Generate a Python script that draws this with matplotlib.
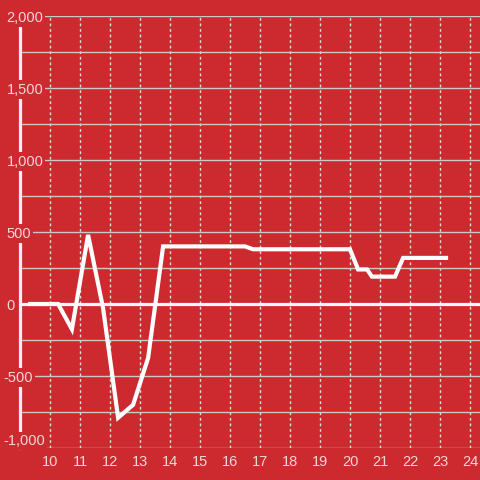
import matplotlib
matplotlib.use("Agg")
import matplotlib.pyplot as plt

# Data
x_vals = [9.27, 10.27, 10.73, 11.27, 11.77, 12.27, 12.77, 13.27, 13.77, 16.5, 16.77,
          20.0, 20.27, 20.57, 20.73, 21.5, 21.77, 23.27]
y_vals = [0, 0, -175, 480, -30, -790, -700, -375, 400, 400, 380,
          380, 240, 240, 190, 190, 320, 320]
x_ticks = list(range(10, 25))
y_major = [-1000, -500, 0, 500, 1000, 1500, 2000]
y_labels = ["-1,000", "-500", "0", "500", "1,000", "1,500", "2,000"]
y_grid = list(range(-1000, 2001, 250))

BG = "#cc2a2f"
TXT = "#f3d6d6"
GRID = "#c9c9c9"

plt.rcParams['font.family'] = ['Liberation Sans', 'DejaVu Sans']

fig = plt.figure(figsize=(4.8, 4.8), dpi=100, facecolor=BG)
W = H = 480.0
ax = fig.add_axes([20 / W, (480 - 448) / H, 460 / W, (448 - 16) / H])
ax.set_facecolor(BG)

ax.set_xlim(9.0, 24.333)
ax.set_ylim(-1000, 2000)

for s in ["top", "right", "bottom"]:
    ax.spines[s].set_visible(False)
ax.spines["left"].set_color("#f2f2f2")
ax.spines["left"].set_linewidth(2.3)
ax.spines["left"].set_zorder(2.5)

ax.set_xticks(x_ticks)
ax.set_xticklabels([str(t) for t in x_ticks])
ax.set_yticks(y_grid)
ax.set_yticklabels([])
ax.tick_params(axis="both", length=0)
ax.tick_params(axis="x", colors=TXT, labelsize=10.5, pad=5)
ax.grid(axis="y", color=GRID, linewidth=1.0, linestyle="-")
ax.grid(axis="x", color="#dcdcdc", linewidth=1.0, linestyle=(0, (2, 2)))
ax.set_axisbelow(True)

ax.axhline(0, color="#f7f7f7", linewidth=2.3, zorder=2)

ax.plot(x_vals, y_vals, color="white", linewidth=3.0, zorder=3,
        solid_joinstyle="miter", solid_capstyle="butt")

trans = ax.get_yaxis_transform()
for v, lab in zip(y_major, y_labels):
    va = "bottom" if v == -1000 else "center_baseline"
    xoff = -17 if lab.startswith("-") else -13.5
    ax.text(xoff / 460, v, lab, transform=trans, ha="left", va=va,
            fontsize=10.5, color=TXT, zorder=6, clip_on=False,
            bbox=dict(facecolor=BG, edgecolor="none", pad=1.5))

fig.savefig("out.png", dpi=100, facecolor=BG)
